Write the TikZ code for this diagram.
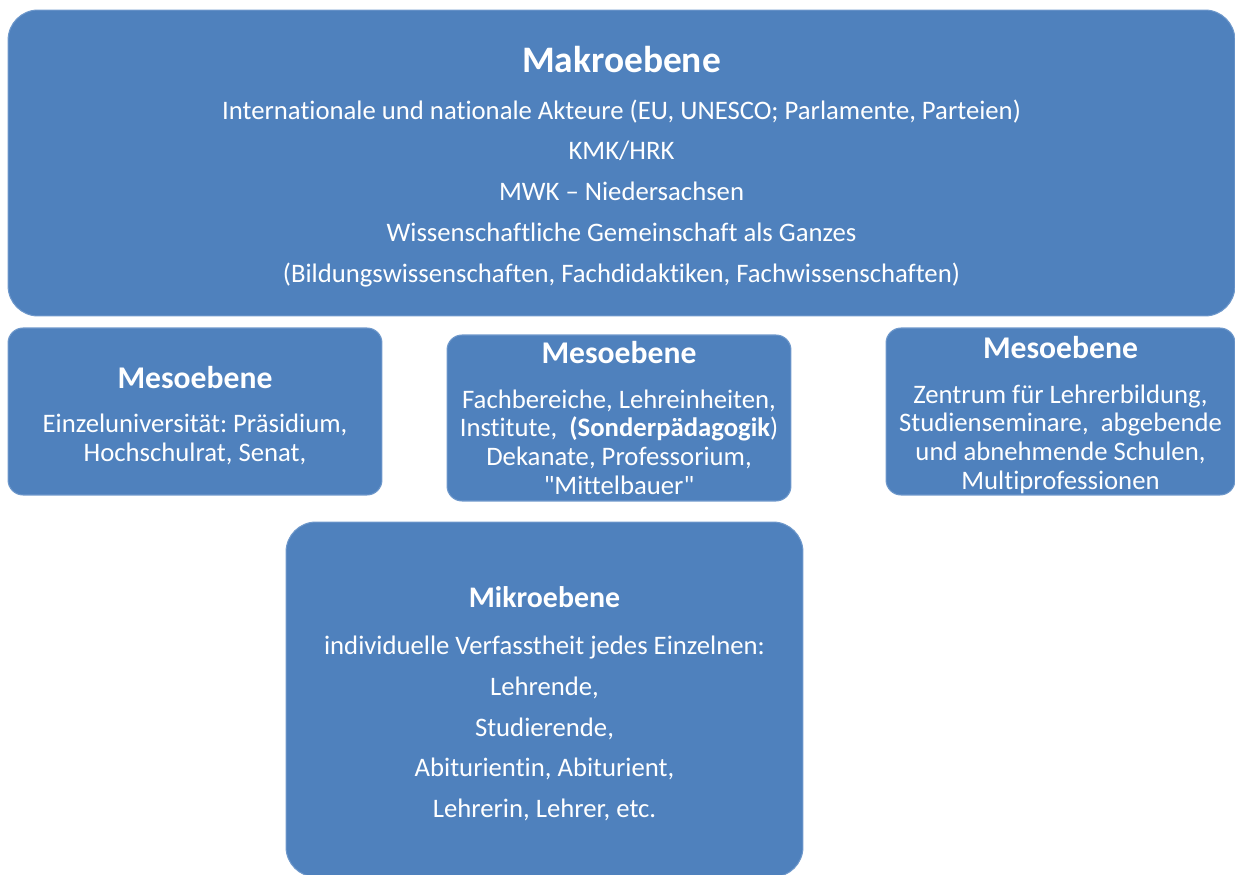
\documentclass[tikz,border=0pt]{standalone}
\usepackage{fontspec}
\setmainfont{Carlito}[Ligatures={NoCommon}]
\usetikzlibrary{positioning}
\definecolor{clrlevel}{HTML}{4F81BD}
\definecolor{clrborder}{HTML}{6E98CB}
\definecolor{clrtext}{HTML}{FFFFFF}
\frenchspacing
\begin{document}
\begin{tikzpicture}[
    x=0.02cm, y=-0.02cm,
    every node/.style={font=\fontsize{15.2}{16.4}\selectfont, text=clrtext},
    level/.style={draw=clrborder, fill=clrlevel, line width=0.6pt, align=center, inner sep=0pt},
    bigbox/.style={level, rounded corners=0.6cm},
    smallbox/.style={level, rounded corners=0.3cm},
]
\useasboundingbox (0,0) rectangle (1235,875);
% Makroebene
\node[bigbox, minimum width=24.54cm, minimum height=6.12cm] (makro) at (621.5,163)
  {\mbox{}\\[2.6pt]
   {\fontsize{21.3}{22}\selectfont\bfseries Makroebene}\\[10pt]
   Internationale und nationale Akteure (EU, UNESCO; Parlamente, Parteien)\\[6.8pt]
   KMK/HRK\\[6.8pt]
   MWK -- Niedersachsen\\[6.8pt]
   Wissenschaftliche Gemeinschaft als Ganzes\\[6.8pt]
   (Bildungswissenschaften, Fachdidaktiken, Fachwissenschaften)};
% Mesoebenen
\node[smallbox, minimum width=7.48cm, minimum height=3.34cm] (meso_1) at (195,411.5)
  {\mbox{}\\[0.7pt]
   {\fontsize{18}{19}\selectfont\bfseries Mesoebene}\\[9pt]
   Einzeluniversität: Präsidium,\\
   Hochschulrat, Senat,};
\node[smallbox, minimum width=6.88cm, minimum height=3.32cm] (meso_2) at (619,418)
  {{\fontsize{18}{19}\selectfont\bfseries Mesoebene}\\[9pt]
   Fachbereiche, Lehreinheiten,\\
   Institute,\ \ \textbf{(Sonderpädagogik})\\
   Dekanate, Professorium,\\
   \textquotedbl Mittelbauer\textquotedbl};
\node[smallbox, minimum width=6.98cm, minimum height=3.34cm] (meso_3) at (1060.5,411.5)
  {\mbox{}\\[0.2pt]
   {\fontsize{18}{19}\selectfont\bfseries Mesoebene}\\[9pt]
   Zentrum für Lehrerbildung,\\
   Studienseminare,\ \ abgebende\\
   und abnehmende Schulen,\\
   Multiprofessionen};
% Mikroebene
\node[bigbox, minimum width=10.34cm, minimum height=7.1cm] (mikro) at (544.5,699.5)
  {\mbox{}\\[0.6pt]
   {\fontsize{17}{19}\selectfont\bfseries Mikroebene}\\[10.3pt]
   individuelle Verfasstheit jedes Einzelnen:\\[6.8pt]
   Lehrende,\\[6.8pt]
   Studierende,\\[6.8pt]
   Abiturientin, Abiturient,\\[6.8pt]
   Lehrerin, Lehrer, etc.};
\end{tikzpicture}
\end{document}
